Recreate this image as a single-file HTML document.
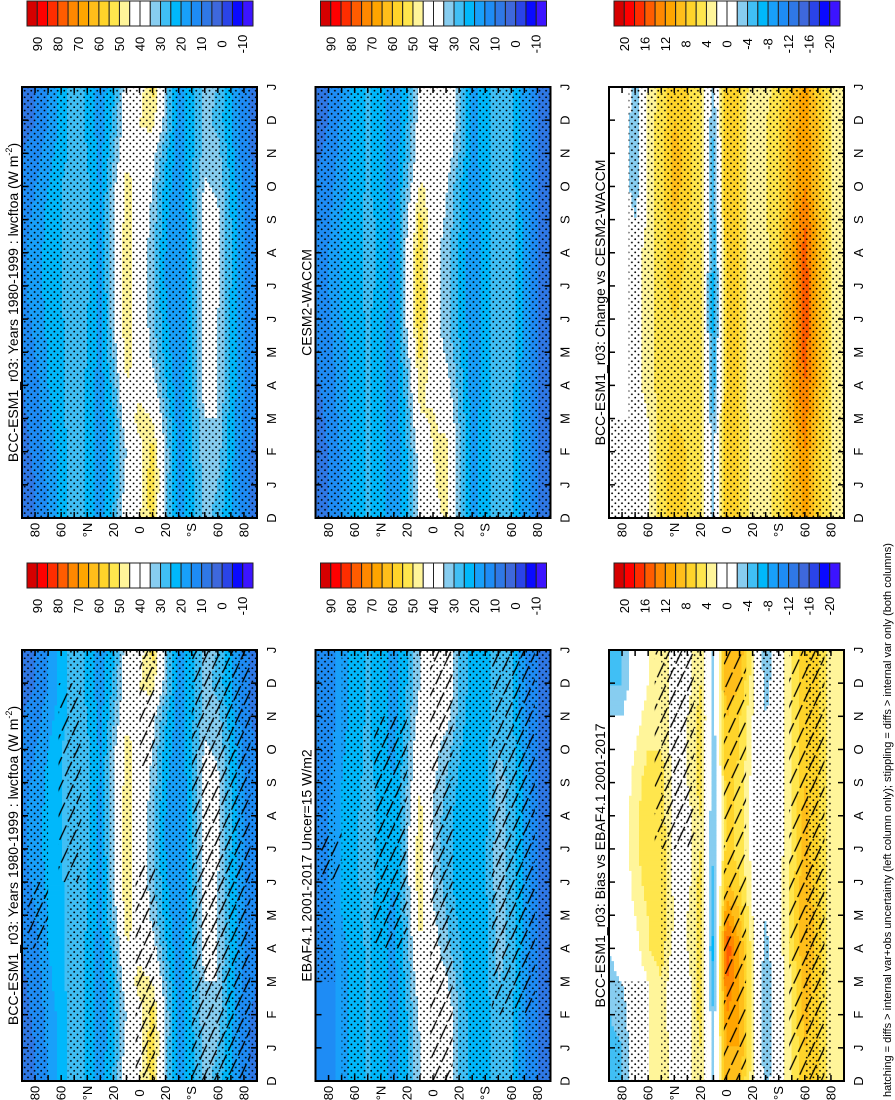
<!DOCTYPE html>
<html><head><meta charset="utf-8">
<style>
html,body{margin:0;padding:0;background:#fff;}
svg{display:block;font-family:"Liberation Sans",Arial,sans-serif;}
</style></head>
<body>
<svg id="fig" width="895" height="1100" viewBox="0 0 895 1100" xmlns="http://www.w3.org/2000/svg">
<defs>
<pattern id="dots" width="6.6" height="6.6" patternUnits="userSpaceOnUse">
<circle cx="1.6" cy="1.6" r="0.9" fill="#000"/><circle cx="4.9" cy="4.9" r="0.9" fill="#000"/>
</pattern>
<pattern id="hatch" width="11" height="40" patternUnits="userSpaceOnUse" patternTransform="rotate(25)">
<line x1="2" y1="0" x2="2" y2="40" stroke="#000" stroke-width="1.3" stroke-dasharray="16 4"/>
</pattern>
</defs>
<g id="root"></g>
<text transform="translate(891,1097) rotate(-90)" font-size="11" text-anchor="start">hatching = diffs &gt; internal var+obs uncertainty (left column only); stippling = diffs &gt; internal var only (both columns)</text>
</svg>
<script>
const months = ['D','J','F','M','A','M','J','J','A','S','O','N','D','J'];
const latitudes = [90,80,70,60,50,40,30,20,10,0,-10,-20,-30,-40,-50,-60,-70,-80,-90];
const absTicks = ['90','80','70','60','50','40','30','20','10','0','-10'];
const diffTicks = ['20','16','12','8','4','0','-4','-8','-12','-16','-20'];
const absBounds = [90,85,80,75,70,65,60,55,50,45,40,35,30,25,20,15,10,5,0,-5,-10];
const diffBounds = [20,18,16,14,12,10,8,6,4,2,0,-2,-4,-6,-8,-10,-12,-14,-16,-18,-20];
const palette = ['#d50000','#ff0000','#ff2d00','#ff5c00','#ff8800','#ffa500','#ffbe1a','#ffd42a','#ffe64d','#fff59a','#ffffff','#ffffff','#87cdf0','#40bff5','#00b8fb','#18a0fa','#1e8cf5','#2f78e6','#3e68dc','#2a44e8','#0a0aff','#3c14ff'];

const bccLwcf = [
[8,10,15,22,28,24,17,26,40,45,52,33,17,24,32,28,20,12,8],
[8,10,16,22,28,24,17,24,38,42,55,33,17,24,32,30,20,12,8],
[8,11,17,22,28,24,17,24,35,42,53,34,17,24,33,32,22,12,8],
[9,12,18,24,28,24,17,24,40,48,45,30,17,24,35,35,22,14,10],
[10,13,20,24,28,24,17,27,45,42,38,26,16,24,38,35,24,15,10],
[12,15,20,24,30,25,18,31,48,42,33,23,15,24,38,35,24,15,10],
[13,16,22,24,30,25,18,34,50,40,32,21,15,24,38,35,24,15,10],
[14,17,22,25,30,26,18,35,50,40,32,20,15,24,38,36,25,15,10],
[14,17,22,25,30,26,18,35,50,40,32,20,15,24,38,36,25,15,10],
[13,16,22,25,30,26,19,35,48,40,33,21,15,24,38,36,25,15,10],
[12,15,20,25,30,26,19,33,48,42,35,23,16,24,36,34,24,14,10],
[10,12,18,22,28,25,18,29,42,44,38,26,17,24,32,32,22,12,8],
[8,10,15,22,28,24,17,26,40,45,48,32,17,24,32,28,20,12,8],
[8,10,16,22,28,24,17,24,38,42,52,33,17,24,32,30,20,12,8]];

const cesmLwcf = [
[8,10,16,22,26,22,16,25,38,42,46,32,18,22,28,26,18,10,6],
[8,10,16,22,26,22,16,25,38,44,48,32,18,22,28,27,18,10,6],
[8,10,16,22,26,22,16,25,38,45,48,32,18,22,28,27,18,10,6],
[8,11,17,22,26,22,16,26,44,46,42,30,18,22,28,27,18,10,6],
[9,12,18,22,26,22,16,28,48,42,38,28,17,22,28,27,18,10,6],
[10,13,18,22,26,22,17,32,52,40,34,26,17,22,29,28,18,10,6],
[11,14,20,22,26,22,17,36,56,38,32,24,17,22,30,28,18,10,6],
[12,15,20,23,26,24,17,36,56,38,32,24,17,22,30,28,18,10,6],
[12,15,20,23,26,24,17,36,55,38,32,24,17,22,30,28,18,10,6],
[11,14,20,23,26,24,18,34,52,40,34,26,17,22,30,28,18,10,6],
[10,13,18,22,26,22,17,30,46,42,36,26,17,22,28,27,18,10,6],
[9,11,17,22,26,22,16,26,40,44,40,30,18,22,28,26,18,10,6],
[8,10,16,22,26,22,16,25,38,44,42,32,18,22,28,26,18,10,6],
[8,10,16,22,26,22,16,25,38,44,44,32,18,22,28,26,18,10,6]];

const ebafLwcf = [
[10,12,18,22,26,22,18,25,35,40,42,30,22,22,28,26,16,10,8],
[10,12,18,22,26,22,18,25,35,40,42,30,22,22,28,26,16,10,8],
[10,12,18,22,26,22,18,25,36,40,40,30,22,22,28,26,16,10,8],
[10,12,18,22,26,22,18,26,40,40,36,28,20,24,30,28,16,10,8],
[10,13,18,22,26,22,18,28,44,38,32,26,20,24,32,28,18,10,8],
[12,14,20,24,26,22,18,30,48,36,30,24,20,24,32,28,18,10,8],
[12,15,20,24,27,24,20,32,50,34,28,22,20,24,33,28,18,10,8],
[12,15,20,24,27,24,20,32,50,34,28,22,20,24,33,28,18,10,8],
[12,15,20,24,27,24,20,32,48,34,28,22,20,24,32,28,18,10,8],
[12,14,20,24,26,24,20,30,44,36,30,24,20,24,32,28,18,10,8],
[11,13,19,23,26,22,18,28,42,38,32,26,20,24,30,28,18,10,8],
[10,12,18,22,26,22,18,26,38,40,38,28,22,22,28,26,16,10,8],
[10,12,18,22,26,22,18,25,35,40,42,30,22,22,28,26,16,10,8],
[10,12,18,22,26,22,18,25,35,40,42,30,22,22,28,26,16,10,8]];

const changeVsCesm = [
[1,1,0,2,5,7,6,4,-3,8,6,3,3,5,8,11,7,4,3],
[1,1,0,2,5,7,6,4,-3,8,6,3,3,5,8,11,7,4,3],
[1,1,0,2,5,7,6,4,-3,8,6,3,3,5,8,12,7,4,3],
[1,1,0,2,5,6,5,4,-4,8,6,3,3,5,9,13,8,4,3],
[1,1,1,3,5,6,5,4,-6,7,6,2,3,6,10,14,9,4,3],
[1,1,1,3,5,6,5,4,-6,7,6,2,3,6,10,15,9,4,3],
[1,1,1,3,5,6,5,4,-7,7,6,2,3,6,10,16,9,4,3],
[1,1,1,3,5,7,5,4,-7,7,6,2,3,6,10,16,9,4,3],
[1,1,1,3,5,7,6,4,-6,7,6,2,3,6,10,15,9,4,3],
[1,1,-2,3,5,8,6,4,-6,8,6,2,4,6,10,14,9,4,3],
[1,1,-4,3,5,9,7,4,-5,8,6,2,4,6,9,12,8,4,3],
[1,1,-4,3,5,9,7,4,-5,8,6,2,4,6,9,12,8,4,3],
[1,1,-4,3,5,8,7,4,-4,8,6,2,4,6,9,11,8,4,3],
[1,1,-3,2,5,7,6,4,-3,8,6,3,3,5,8,11,7,4,3]];

const biasVsEbaf = [
[-4,-4,0,2,4,1,1,4,-3,10,8,3,-3,0,4,8,6,3,2],
[-5,-4,0,2,4,1,1,4,-3,10,10,3,-4,0,4,8,6,3,2],
[-4,-3,0,2,4,-1,1,5,-4,12,10,3,-4,0,4,9,6,3,2],
[-3,-2,0,2,4,0,1,5,-6,14,10,3,-4,0,4,9,7,3,2],
[-2,0,1,4,5,1,2,5,-7,16,10,3,-3,1,5,10,7,3,2],
[0,0,2,4,6,2,2,5,-6,12,8,2,-2,1,5,10,7,3,2],
[0,0,3,5,6,1,1,5,-5,8,6,2,-1,1,5,10,6,3,2],
[0,1,3,6,6,1,1,4,-4,7,5,1,0,1,4,9,6,3,2],
[0,1,3,6,5,1,1,4,-4,7,5,1,0,1,4,9,6,3,2],
[0,0,3,5,5,1,2,5,-4,7,5,1,0,1,4,8,6,3,2],
[0,0,2,4,4,1,2,5,-4,8,6,2,-1,1,4,8,6,3,2],
[-2,-2,1,3,4,1,2,5,-3,8,6,2,-2,0,4,8,6,3,2],
[-4,-4,0,2,4,1,1,4,-3,10,8,3,-3,0,4,8,6,3,2],
[-5,-4,0,2,4,1,1,4,-3,10,10,3,-4,0,4,8,6,3,2]];

const NS='http://www.w3.org/2000/svg';
const root=document.getElementById('root');
const colX=[22,315.5,609], rowY=[87,650], PW=235, PH=431;
function mk(tag,attrs,parent){const e=document.createElementNS(NS,tag);for(const k in attrs)e.setAttribute(k,attrs[k]);(parent||root).appendChild(e);return e;}
function colorOf(v,bounds){let k=0;for(const b of bounds){if(v<b)k++;}return palette[k];}
function sample(g,t,l){const j0=Math.min(Math.floor(t),g.length-2),i0=Math.min(Math.floor(l),g[0].length-2);const ft=t-j0,fl=l-i0;
 const a=g[j0][i0],b=g[j0][i0+1],c=g[j0+1][i0],d=g[j0+1][i0+1];return (a*(1-fl)+b*fl)*(1-ft)+(c*(1-fl)+d*fl)*ft;}
function latX(px,lat){return px+(90-lat)/180*PW;}
function monX(py,j){return py+PH-j*PH/(months.length-1);}

const panels=[
 {r:0,c:0,g:bccLwcf,b:absBounds,title:'BCC-ESM1_r03: Years 1980-1999 : lwcftoa (W m',sup:true,name:'bcc-climatology-top',dots:[[90,-90,0,13]],hatch:[]},
 {r:0,c:1,g:cesmLwcf,b:absBounds,title:'CESM2-WACCM',name:'cesm2-waccm-panel',dots:[[90,-90,0,13]],hatch:[]},
 {r:0,c:2,g:changeVsCesm,b:diffBounds,title:'BCC-ESM1_r03: Change vs CESM2-WACCM',name:'change-vs-cesm-panel',dots:[[55,-90,0,13],[90,55,0,3],[75,55,3,13]],hatch:[]},
 {r:1,c:0,g:bccLwcf,b:absBounds,title:'BCC-ESM1_r03: Years 1980-1999 : lwcftoa (W m',sup:true,name:'bcc-climatology-bottom',dots:[[90,70,0,13],[55,-90,0,13]],hatch:[[-40,-85,0,13],[3,-12,0,6.5],[0,-12,9.5,13],[62,45,6,12],[85,70,4,6]]},
 {r:1,c:1,g:ebafLwcf,b:absBounds,title:'EBAF4.1 2001-2017 Uncer=15 W/m2',name:'ebaf-obs-panel',dots:[[90,75,3,13],[70,-90,0,13]],hatch:[[45,20,4,11],[2,-15,0,13],[-45,-78,2,13],[85,70,6,7.5]]},
 {r:1,c:2,g:biasVsEbaf,b:diffBounds,title:'BCC-ESM1_r03: Bias vs EBAF4.1 2001-2017',name:'bias-vs-ebaf-panel',dots:[[85,60,0,3],[50,15,0,13],[-20,-45,0,13],[-60,-80,0,13]],hatch:[[55,25,7,13],[2,-15,0,13],[-48,-75,0,13]]}
];

const latLab=['80','60','°N','20','0','20','°S','60','80'], latLabV=[80,60,40,20,0,-20,-40,-60,-80];

panels.forEach(p=>{
 const px=colX[p.c], py=rowY[p.r];
 const g=mk('g',{});
 
 
 const NC=94, NR=86;
 for(let r=0;r<NR;r++){
  const t=(months.length-1)*(r+0.5)/NR, y=py+PH-(r+1)*PH/NR;
  let run=null;
  for(let c=0;c<=NC;c++){
   let col=null;
   if(c<NC){const l=(latitudes.length-1)*(c+0.5)/NC;col=colorOf(sample(p.g,t,l),p.b);}
   if(run&&col===run.col){run.n++;continue;}
   if(run){const e=mk('rect',{x:(px+run.s*PW/NC).toFixed(2),y:y.toFixed(2),width:(run.n*PW/NC+0.4).toFixed(2),height:(PH/NR+0.4).toFixed(2),fill:run.col},g);
    
    }
   run=col?{s:c,n:1,col:col}:null;
  }
 }
 p.dots.forEach(d=>{const x1=latX(px,d[0]),x2=latX(px,d[1]),y1=monX(py,d[3]),y2=monX(py,d[2]);
  const e=mk('rect',{x:x1,y:y1,width:x2-x1,height:y2-y1,fill:'url(#dots)'},g);
  
  });
 p.hatch.forEach(d=>{const x1=latX(px,d[0]),x2=latX(px,d[1]),y1=monX(py,d[3]),y2=monX(py,d[2]);
  const e=mk('rect',{x:x1,y:y1,width:x2-x1,height:y2-y1,fill:'url(#hatch)'},g);
  
  });
 const fr=mk('rect',{x:px,y:py,width:PW,height:PH,fill:'none',stroke:'#000','stroke-width':2},g);
 
 
 for(let lat=80;lat>=-80;lat-=10){const x=latX(px,lat);
  const t1=mk('line',{x1:x,y1:py,x2:x,y2:py+6,stroke:'#000','stroke-width':1.5},g);
  
  
  const t2=mk('line',{x1:x,y1:py+PH,x2:x,y2:py+PH-6,stroke:'#000','stroke-width':1.5},g);
  
  }
 latLabV.forEach((v,i)=>{const x=latX(px,v);
  const e=mk('text',{transform:`translate(${x+4.5},${py+PH+12}) rotate(-90)`,'font-size':13,'text-anchor':'middle'},g);
  e.textContent=latLab[i];
  
  });
 months.forEach((m,j)=>{const y=monX(py,j);
  if(j>0&&j<months.length-1){
   const a=mk('line',{x1:px+PW,y1:y,x2:px+PW-6,y2:y,stroke:'#000','stroke-width':1.5},g);
   
   
   const b=mk('line',{x1:px,y1:y,x2:px+6,y2:y,stroke:'#000','stroke-width':1.5},g);
   
   }
  const e=mk('text',{transform:`translate(${px+PW+19},${y}) rotate(-90)`,'font-size':13,'text-anchor':'middle'},g);
  e.textContent=m;
  
  });
 const tt=mk('text',{transform:`translate(${px-4},${py+PH/2}) rotate(-90)`,'font-size':14,'text-anchor':'middle'},g);
 
 
 tt.textContent=p.title;
 if(p.sup){const s=mk('tspan',{'font-size':9,dy:-6},tt);s.textContent='-2';const s2=mk('tspan',{dy:6},tt);s2.textContent=')';}
});

[0,1].forEach(r=>{
 [0,1,2].forEach(c=>{
  const cx=colX[c]+5, cy=r===0?1:563, W=226, H=25, bw=W/22;
  const isDiff=c===2, ticks=isDiff?diffTicks:absTicks;
  const g=mk('g',{});
  
  
  palette.forEach((col,k)=>{const e=mk('rect',{x:cx+k*bw,y:cy,width:bw,height:H,fill:col,stroke:'#222','stroke-width':1},g);
   
   });
  ticks.forEach((t,m)=>{const x=cx+(2*m+1)*bw;
   const e=mk('text',{transform:`translate(${x+4.5},${cy+H+18}) rotate(-90)`,'font-size':13,'text-anchor':'middle'},g);
   e.textContent=t;
   
   });
 });
});
</script>
</body></html>
